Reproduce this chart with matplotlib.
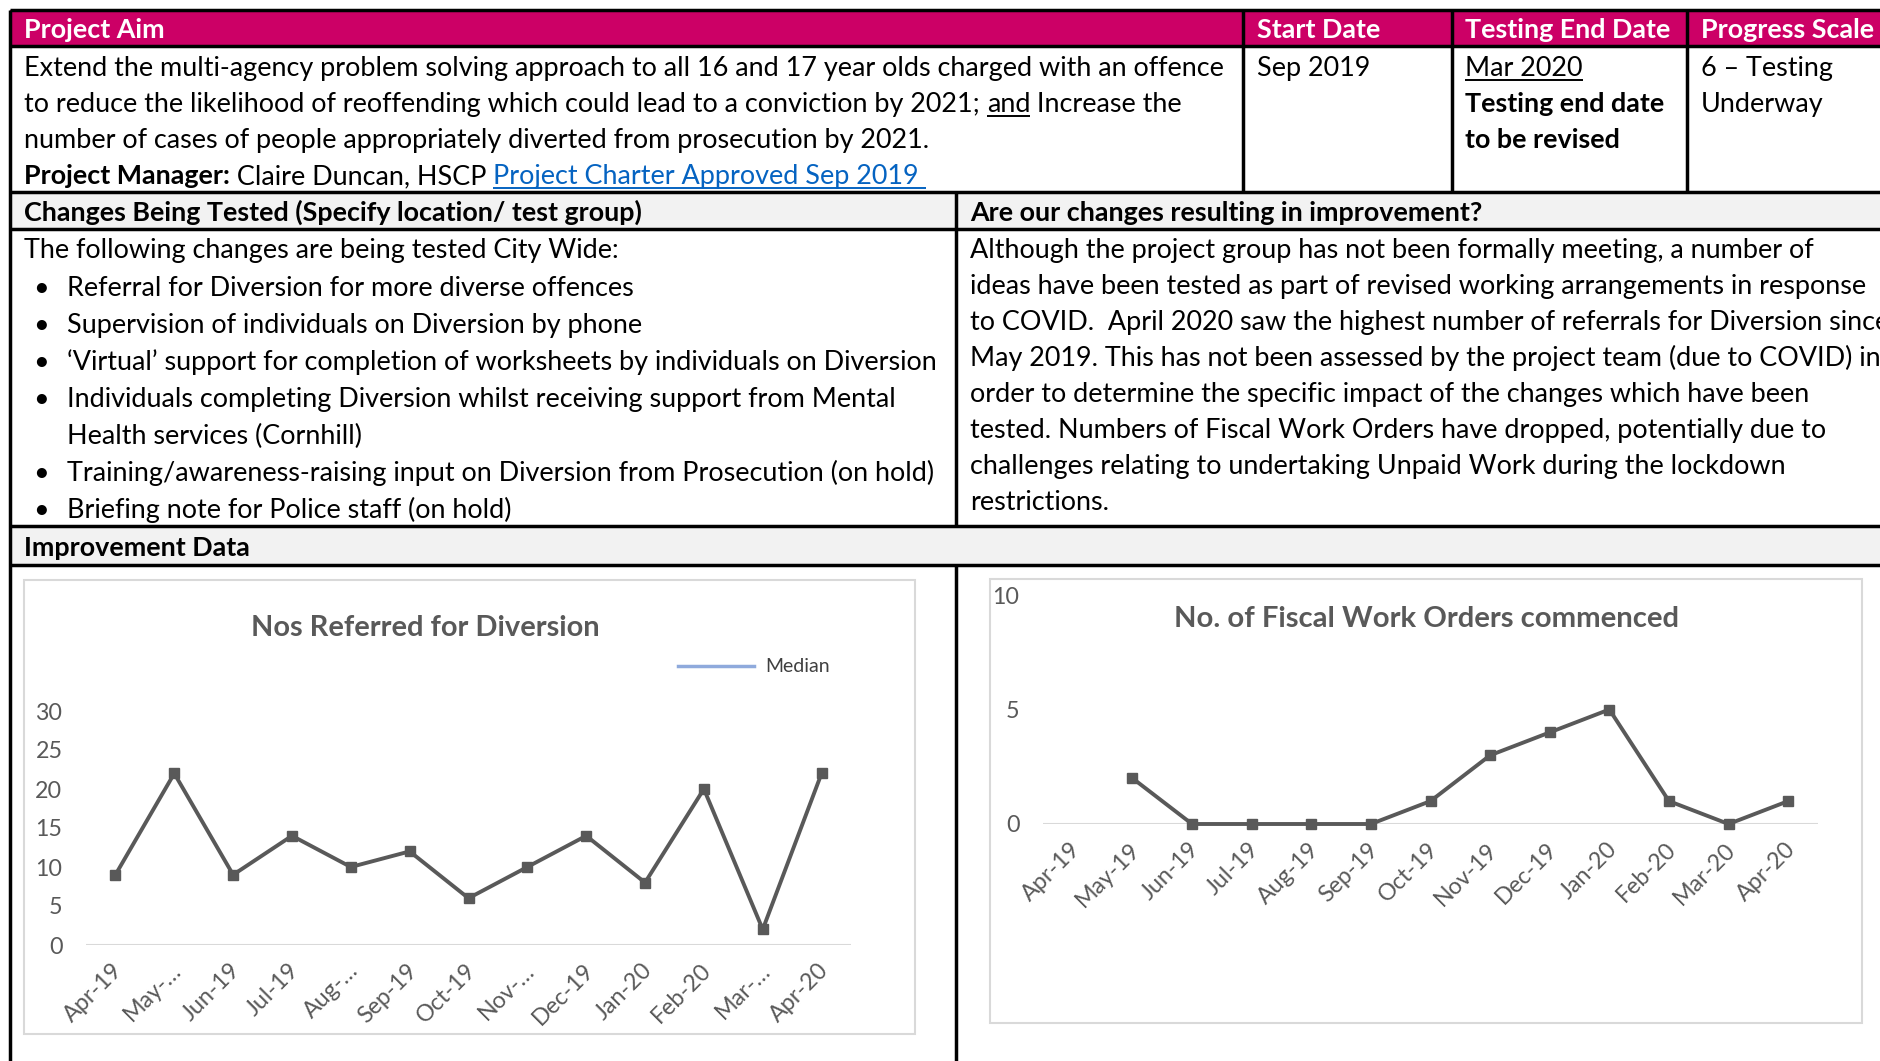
import matplotlib
matplotlib.use("Agg")
import matplotlib.pyplot as plt
import matplotlib.transforms as mtransforms
from matplotlib.lines import Line2D
from matplotlib.patches import Rectangle
import numpy as np

plt.rcParams['font.family'] = ['Lato', 'DejaVu Sans']

W, H = 1880, 1061
PINK = '#cc0066'
SHADE = '#f2f2f2'
GREY = '#595959'
LINK = '#0563c1'

# ---- data ----
months = ["Apr-19", "May-19", "Jun-19", "Jul-19", "Aug-19", "Sep-19", "Oct-19",
          "Nov-19", "Dec-19", "Jan-20", "Feb-20", "Mar-20", "Apr-20"]
referral_ticks = ["Apr-19", "May-\u2026", "Jun-19", "Jul-19", "Aug-\u2026", "Sep-19", "Oct-19",
                  "Nov-\u2026", "Dec-19", "Jan-20", "Feb-20", "Mar-\u2026", "Apr-20"]
referrals = [9, 22, 9, 14, 10, 12, 6, 10, 14, 8, 20, 2, 22]
fwo_counts = [np.nan, 2, 0, 0, 0, 0, 1, 3, 4, 5, 1, 0, 1]

header_cols = ["Project Aim", "Start Date", "Testing End Date", "Progress Scale"]
start_date = "Sep 2019"
end_date = "Mar 2020"
end_note = ["Testing end date", "to be revised"]
progress = ["6 \u2013 Testing", "Underway"]

aim_line1 = "Extend the multi-agency problem solving approach to all 16 and 17 year olds charged with an offence"
aim_line2 = ["to reduce the likelihood of reoffending which could lead to a conviction by 2021; ", "and", " Increase the"]
aim_line3 = "number of cases of people appropriately diverted from prosecution by 2021."
manager = ["Project Manager:", " Claire Duncan, HSCP ", "Project Charter Approved Sep 2019 "]

changes_title = "Changes Being Tested (Specify location/ test group)"
changes_intro = "The following changes are being tested City Wide:"
changes_bullets = [
    ["Referral for Diversion for more diverse offences"],
    ["Supervision of individuals on Diversion by phone"],
    ["\u2018Virtual\u2019 support for completion of worksheets by individuals on Diversion"],
    ["Individuals completing Diversion whilst receiving support from Mental", "Health services (Cornhill)"],
    ["Training/awareness-raising input on Diversion from Prosecution (on hold)"],
    ["Briefing note for Police staff (on hold)"],
]
result_title = "Are our changes resulting in improvement?"
result_lines = [
    "Although the project group has not been formally meeting, a number of",
    "ideas have been tested as part of revised working arrangements in response",
    "to COVID.  April 2020 saw the highest number of referrals for Diversion since",
    "May 2019. This has not been assessed by the project team (due to COVID) in",
    "order to determine the specific impact of the changes which have been",
    "tested. Numbers of Fiscal Work Orders have dropped, potentially due to",
    "challenges relating to undertaking Unpaid Work during the lockdown",
    "restrictions.",
]
data_title = "Improvement Data"

fig = plt.figure(figsize=(W / 100, H / 100), dpi=100)
renderer = fig.canvas.get_renderer()


def fx(x):
    return x / W


def fy(y):
    return 1 - y / H


def fit_size(s, width, bold=False):
    # font size (pt) at which s spans `width` pixels
    probe = fig.text(0, 0, s, fontsize=20, fontweight='bold' if bold else 'normal')
    w = probe.get_window_extent(renderer=renderer).width
    probe.remove()
    return 20 * width / w


FS = fit_size(aim_line1, 1205)
FSB = fit_size(changes_title, 620, bold=True)


def seg(x0, y0, x1, y1, lw=2.5, color='black', z=5):
    fig.add_artist(Line2D([fx(x0), fx(x1)], [fy(y0), fy(y1)], lw=lw, color=color,
                          transform=fig.transFigure, zorder=z, solid_capstyle='butt'))


def box(x0, y0, x1, y1, face, edge='none', lw=0, z=1):
    fig.add_artist(Rectangle((fx(x0), fy(y1)), (x1 - x0) / W, (y1 - y0) / H,
                             facecolor=face, edgecolor=edge, lw=lw,
                             transform=fig.transFigure, zorder=z))


def run(x, y, parts):
    # parts: (text, bold, colour, underline) pieces drawn one after another on a baseline
    for s, bold, color, ul in parts:
        t = fig.text(fx(x), fy(y), s, fontsize=FSB if bold else FS, color=color,
                     va='baseline', ha='left', fontweight='bold' if bold else 'normal')
        w = t.get_window_extent(renderer=renderer).width
        if ul:
            seg(x, y + 4, x + w, y + 4, lw=1.4, color=color)
        x += w


def line(x, y, s, bold=False, color='black', ul=False):
    run(x, y, [(s, bold, color, ul)])


# ---- table backgrounds and rules ----
box(10, 10, W, 46, PINK)
box(10, 192, W, 229, SHADE)
box(10, 526, W, 565, SHADE)

for y in [10, 46, 192, 229, 526, 565]:
    seg(10, y, W, y)
seg(10, 10, 10, H)
for x in [1243, 1452, 1687]:
    seg(x, 10, x, 192)
seg(956, 192, 956, 526)
seg(956, 565, 956, H)

# ---- header row ----
for x, s in zip([24, 1257, 1465, 1701], header_cols):
    line(x, 38, s, bold=True, color='white')

# ---- aim row ----
line(24, 76, aim_line1)
run(24, 112, [(aim_line2[0], False, 'black', False), (aim_line2[1], False, 'black', True),
              (aim_line2[2], False, 'black', False)])
line(24, 148, aim_line3)
run(24, 184, [(manager[0], True, 'black', False), (manager[1], False, 'black', False),
              (manager[2], False, LINK, True)])
line(1257, 76, start_date)
line(1465, 76, end_date, ul=True)
line(1465, 112, end_note[0], bold=True)
line(1465, 148, end_note[1], bold=True)
line(1701, 76, progress[0])
line(1701, 112, progress[1])

# ---- changes / results ----
line(24, 221, changes_title, bold=True)
line(970, 221, result_title, bold=True)

line(24, 258, changes_intro)
y = 296
for item in changes_bullets:
    line(33, y, "\u2022")
    for s in item:
        line(67, y, s)
        y += 37

for k, s in enumerate(result_lines):
    line(970, 258 + 36 * k, s)

line(24, 556, data_title, bold=True)

# ---- charts ----
box(24, 580, 915, 1034, 'white', edge='#d9d9d9', lw=1.5, z=2)
box(990, 579, 1862, 1023, 'white', edge='#d9d9d9', lw=1.5, z=2)

TICK_FS = fit_size("Apr-19", 73)
shift = mtransforms.ScaledTranslation(4 / 100, 0, fig.dpi_scale_trans)


def chart(x0, x1, ytop, y0, values, ticks, ymax, ystep, title, tx, ty, twidth):
    ax = fig.add_axes([fx(x0), fy(y0), (x1 - x0) / W, (y0 - ytop) / H], zorder=3)
    ax.patch.set_alpha(0)
    pos = np.arange(len(values))
    ax.axhline(0, color='#d9d9d9', lw=1.5, zorder=1)
    ax.plot(pos, values, color=GREY, lw=2.8, marker='s', ms=6.5, zorder=3, clip_on=False)
    ax.set_xlim(-0.5, len(values) - 0.5)
    ax.set_ylim(0, ymax)
    ax.set_yticks(np.arange(0, ymax + 1, ystep))
    ax.set_xticks(pos)
    ax.set_xticklabels(ticks, rotation=45, ha='right', va='center', rotation_mode='anchor')
    ax.tick_params(axis='both', length=0, colors=GREY, labelsize=TICK_FS)
    ax.tick_params(axis='x', pad=16)
    ax.tick_params(axis='y', pad=17)
    for lab in ax.get_xticklabels():
        lab.set_transform(lab.get_transform() + shift)
    for sp in ax.spines.values():
        sp.set_visible(False)
    fig.text(fx(tx), fy(ty), title, fontsize=fit_size(title, twidth, bold=True),
             fontweight='bold', color=GREY, ha='center', va='center', zorder=4)
    return ax


chart(86, 851, 711, 945, referrals, referral_ticks, 30, 5,
      "Nos Referred for Diversion", 425, 628, 349)
chart(1043, 1818, 595, 824, fwo_counts, months, 10, 5,
      "No. of Fiscal Work Orders commenced", 1427, 619, 505)

# legend of the left chart (median series has no visible points)
fig.legend(handles=[Line2D([], [], color='#8faadc', lw=2.5, label='Median')],
           loc='center left', bbox_to_anchor=(fx(660), fy(667)), frameon=False,
           handlelength=3.9, handletextpad=0.6, fontsize=fit_size("Median", 65),
           labelcolor='#404040')

fig.savefig('out.png', dpi=100)
